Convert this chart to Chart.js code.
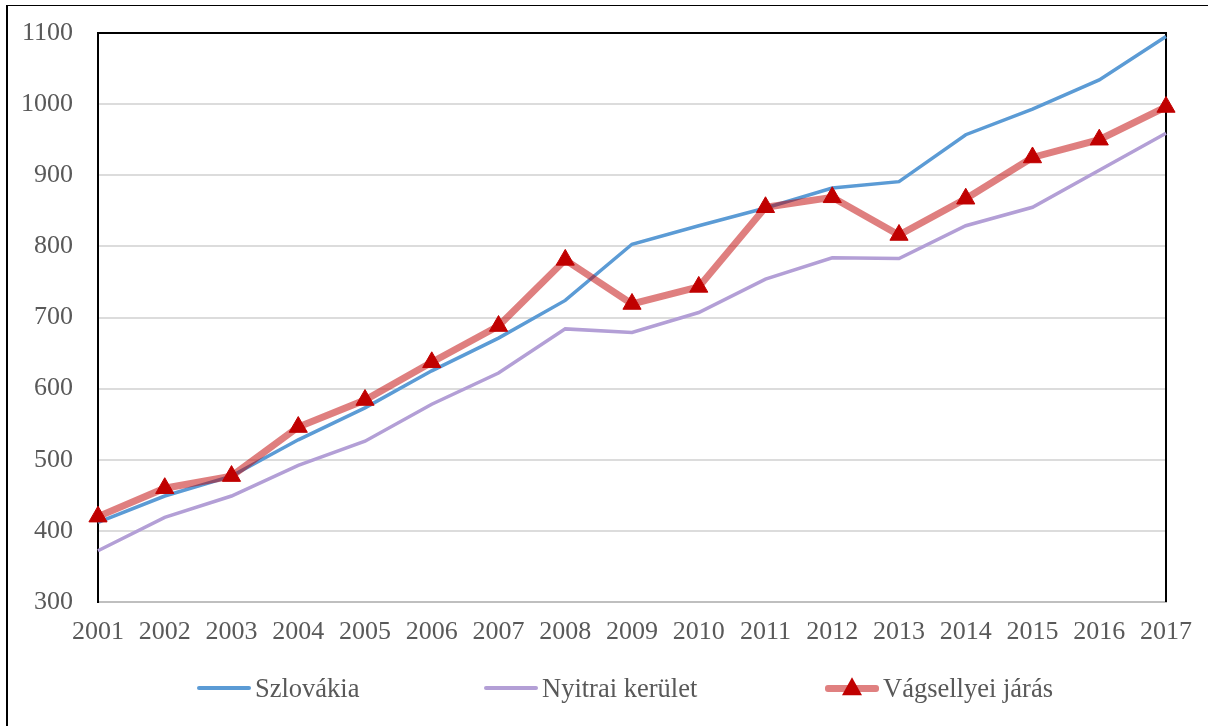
<!DOCTYPE html>
<html>
<head>
<meta charset="utf-8">
<script src="https://cdn.jsdelivr.net/npm/chart.js@4.4.0/dist/chart.umd.min.js"></script>
<style>
  html, body { margin: 0; padding: 0; background: #fff; }
  #wrap { position: relative; width: 1208px; height: 726px; overflow: hidden; }
  #frame { position: absolute; left: 6px; top: 5px; width: 1210px; height: 730px;
           border-left: 2px solid #000; border-top: 1px solid #000; box-sizing: border-box; pointer-events: none; }
  #myChart { position: absolute; left: 0; top: 0; }
  #legend { position: absolute; left: 0; top: 671px; width: 1208px; height: 36px;
            font-family: "Liberation Serif", "Times New Roman", serif; font-size: 26.5px; color: #595959; }
  .item { position: absolute; top: 0; display: flex; align-items: center; white-space: nowrap; }
  .swatch { position: relative; width: 54px; height: 34px; margin-right: 4px; }
  .swatch .ln { position: absolute; left: 0; right: 0; top: 50%; border-radius: 3px; }
  .swatch .tri { position: absolute; left: 50%; top: 50%; width: 0; height: 0;
                 transform: translate(-50%, -60%);
                 border-left: 10px solid transparent; border-right: 10px solid transparent; border-bottom: 18px solid #c00000; }
</style>
</head>
<body>
<div id="wrap">
  <canvas id="myChart" width="1208" height="726"></canvas>
  <div id="legend"></div>
  <div id="frame"></div>
</div>
<script>
var years = ['2001','2002','2003','2004','2005','2006','2007','2008','2009','2010','2011','2012','2013','2014','2015','2016','2017'];
var szlovakia = [412, 449, 477, 528, 573, 625, 671, 724, 803, 829, 854, 882, 891, 957, 993, 1034, 1095];
var nyitrai = [372, 419, 449, 492, 526, 578, 622, 684, 679, 707, 754, 784, 783, 829, 855, 907, 959];
var vagsellyei = [420, 460, 477, 546, 584, 637, 688, 781, 719, 743, 855, 869, 816, 867, 925, 950, 996];
var seriesNames = ['Szlovákia', 'Nyitrai kerület', 'Vágsellyei járás'];
var yTicks = { min: 300, max: 1100, step: 100 };

var font = { family: '"Liberation Serif", "Times New Roman", serif', size: 26 };
var textColor = '#595959';

// top and right edge of the plot area
var plotFrame = {
    id: 'plotFrame',
    beforeDatasetsDraw: function (chart) {
        var a = chart.chartArea, c = chart.ctx;
        c.save();
        c.strokeStyle = '#000';
        c.lineWidth = 2;
        c.beginPath();
        c.moveTo(a.left, a.top);
        c.lineTo(a.right, a.top);
        c.lineTo(a.right, a.bottom);
        c.stroke();
        c.restore();
    }
};

var ctx = document.getElementById('myChart');

var data = {
    labels: years,
    datasets: [
        {
            label: seriesNames[0],
            data: szlovakia,
            borderColor: '#5b9bd5',
            backgroundColor: '#5b9bd5',
            borderWidth: 3.5,
            pointRadius: 0,
            tension: 0,
            order: 2
        },
        {
            label: seriesNames[1],
            data: nyitrai,
            borderColor: '#b39fd6',
            backgroundColor: '#b39fd6',
            borderWidth: 3.5,
            pointRadius: 0,
            tension: 0,
            order: 3
        },
        {
            label: seriesNames[2],
            data: vagsellyei,
            borderColor: 'rgba(192,0,0,0.5)',
            backgroundColor: '#c00000',
            borderWidth: 7,
            pointStyle: 'triangle',
            pointRadius: 10.5,
            pointBackgroundColor: '#c00000',
            pointBorderColor: '#c00000',
            pointBorderWidth: 1,
            tension: 0,
            order: 1
        }
    ]
};

var chart = new Chart(ctx, {
    type: 'line',
    data: data,
    plugins: [plotFrame],
    options: {
        responsive: false,
        animation: false,
        layout: { padding: { left: 0, right: 42, top: 33, bottom: 0 } },
        plugins: {
            legend: { display: false },
            tooltip: { enabled: false }
        },
        scales: {
            x: {
                offset: false,
                grid: { display: false, drawTicks: false },
                border: { color: '#bfbfbf', width: 2 },
                ticks: { font: font, color: textColor, padding: 15, maxRotation: 0, autoSkip: false },
                afterFit: function (s) { s.height = 124; s.paddingLeft = 0; s.paddingRight = 0; }
            },
            y: {
                min: yTicks.min,
                max: yTicks.max,
                grid: {
                    drawTicks: false,
                    lineWidth: 2,
                    color: function (c) {
                        if (c.tick && c.tick.value === yTicks.max) return '#000';
                        return '#dcdcdc';
                    }
                },
                border: { color: '#000', width: 2 },
                ticks: {
                    stepSize: yTicks.step, font: font, color: textColor, padding: 25,
                    callback: function (v) { return String(v); }
                },
                afterFit: function (s) { s.width = 98; s.paddingTop = 0; s.paddingBottom = 0; }
            }
        }
    }
});

// legend as html, items placed where the original has them
var legendLeft = [197, 484, 825];
var legend = document.getElementById('legend');
data.datasets.forEach(function (ds, i) {
    var item = document.createElement('div');
    item.className = 'item';
    item.style.left = legendLeft[i] + 'px';
    var sw = document.createElement('span');
    sw.className = 'swatch';
    var ln = document.createElement('span');
    ln.className = 'ln';
    ln.style.height = (i === 2 ? 7 : 4) + 'px';
    ln.style.marginTop = (i === 2 ? -3.5 : -2) + 'px';
    ln.style.background = i === 2 ? '#e08080' : ds.borderColor;
    sw.appendChild(ln);
    if (i === 2) {
        var tri = document.createElement('span');
        tri.className = 'tri';
        sw.appendChild(tri);
    }
    var txt = document.createElement('span');
    txt.textContent = ds.label;
    item.appendChild(sw);
    item.appendChild(txt);
    legend.appendChild(item);
});
</script>
</body>
</html>
